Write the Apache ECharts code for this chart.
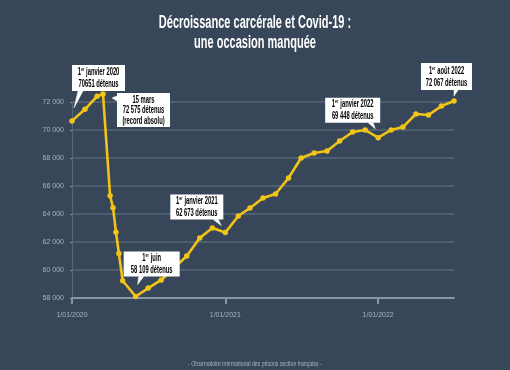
<!DOCTYPE html>
<html><head><meta charset="utf-8">
<script src="https://cdn.jsdelivr.net/npm/echarts@6/dist/echarts.min.js"></script>
<style>html,body{margin:0;padding:0;background:#374759;}#c{width:510px;height:370px;}</style>
</head><body><div id="c"></div>
<script>
const dates = ['2020-01-01','2020-02-01','2020-03-01','2020-03-15','2020-04-01','2020-04-08','2020-04-15','2020-04-22','2020-05-01','2020-06-01','2020-07-01','2020-08-01','2020-10-01','2020-11-01','2020-12-01',
 '2021-01-01','2021-02-01','2021-03-01','2021-04-01','2021-05-01','2021-06-01','2021-07-01','2021-08-01','2021-09-01','2021-10-01','2021-11-01','2021-12-01',
 '2022-01-01','2022-02-01','2022-03-01','2022-04-01','2022-05-01','2022-06-01','2022-07-01'];
const detenus = [70651,71480,72410,72575,65300,64450,62700,61180,59230,58109,58710,59290,61000,62290,63000,
 62673,63860,64430,65140,65430,66570,68000,68360,68500,69210,69860,70000,
 69448,70000,70210,71140,71070,71710,72067];
const xTicks = ['2020-01-01','2021-01-01','2022-01-01'];
const yMin = 58000, yMax = 72000, yStep = 2000;
const titleLines = ['Décroissance carcérale et Covid-19 :','une occasion manquée'];
const sourceText = '- Observatoire international des prisons section française -';
const notes = [
 {i:0, sup:'er', d:'janvier 2020', n:'70651 détenus', extra:null},
 {i:3, sup:'', d:'15 mars', n:'72 575 détenus', extra:'(record absolu)'},
 {i:9, sup:'er', d:'juin', n:'58 109 détenus', extra:null},
 {i:15, sup:'er', d:'janvier 2021', n:'62 673 détenus', extra:null},
 {i:27, sup:'er', d:'janvier 2022', n:'69 448 détenus', extra:null},
 {i:33, sup:'er', d:'août 2022', n:'72 067 détenus', extra:null}
];
const layout = [
 {box:[0,-56,53,26], base:[6,26,11,26], tip:[2,-13]},
 {box:[14,-1,53,34], base:[0,3,0,8], tip:[9,4]},
 {box:[-12,-45,56,25], base:[15,25,20,25], tip:[2,-12]},
 {box:[-55,-38,53,25], base:[43,25,48,25], tip:[-4,-7]},
 {box:[-53,-40,55,25], base:[43,25,48,25], tip:[-3,-9]},
 {box:[-33,-38,51,27], base:[33,27,37,27], tip:[0,-5]}
];
const FONT = "'Liberation Sans',Arial,sans-serif";
const ts = d => Date.parse(d + 'T00:00:00Z');
const chart = echarts.init(document.getElementById('c'));
const W = chart.getWidth();
const fmtK = v => String(v).replace(/\B(?=(\d{3})+(?!\d))/g, ' ');
const fmtD = v => {const d=new Date(v);return d.getUTCDate()+'/'+String(d.getUTCMonth()+1).padStart(2,'0')+'/'+d.getUTCFullYear();};
chart.setOption({
  backgroundColor:'#374759',
  animation:false,
  grid:{left:72,right:56,top:102,bottom:72},
  xAxis:{type:'value',min:ts(dates[0]),max:ts(dates[dates.length-1]),
    axisLine:{lineStyle:{color:'#8995a1',width:2}},
    axisTick:{show:true,customValues:xTicks.map(ts),length:6,lineStyle:{color:'#8995a1',width:2}},
    axisLabel:{customValues:xTicks.map(ts),color:'#a8b2bd',fontSize:7,fontFamily:FONT,margin:14,formatter:fmtD},
    splitLine:{show:false}},
  yAxis:{type:'value',min:yMin,max:yMax,interval:yStep,
    axisLine:{show:true,lineStyle:{color:'#566679',width:1}},
    axisTick:{show:true,length:2,lineStyle:{color:'#8995a1'}},
    axisLabel:{color:'#a8b2bd',fontSize:7,fontFamily:FONT,margin:8,formatter:fmtK},
    splitLine:{lineStyle:{color:'#566679',width:1.5}}},
  series:[{type:'line',clip:false,data:dates.map((d,k)=>[ts(d),detenus[k]]),
    lineStyle:{color:'#f2c417',width:2.6},itemStyle:{color:'#f2c417'},
    symbol:'circle',symbolSize:5.5,showAllSymbol:true}]
});
const els = [];
els.push({type:'text',x:W/2,y:33,scaleX:0.63,z:50,
  style:{text:titleLines.join('\n'),align:'center',verticalAlign:'middle',fill:'#ffffff',
    font:"bold 17.5px 'Liberation Sans',Arial,sans-serif",lineHeight:20}});
els.push({type:'text',x:W/2,y:364,scaleX:0.72,z:50,
  style:{text:sourceText,align:'center',verticalAlign:'middle',fill:'#a9b2bc',
    font:"7.2px 'Liberation Sans',Arial,sans-serif"}});
notes.forEach((n,k)=>{
  const p = chart.convertToPixel({seriesIndex:0},[ts(dates[n.i]),detenus[n.i]]);
  const L = layout[k];
  const bx = p[0]+L.box[0], by = p[1]+L.box[1], bw=L.box[2], bh=L.box[3];
  els.push({type:'polygon',shape:{points:[[bx+L.base[0],by+L.base[1]],[bx+L.base[2],by+L.base[3]],[p[0]+L.tip[0],p[1]+L.tip[1]]]},
    style:{fill:'#ffffff',stroke:'#ffffff',lineWidth:0.5},z:100});
  els.push({type:'rect',shape:{x:bx,y:by,width:bw,height:bh},style:{fill:'#ffffff'},z:101});
  let txt = (n.sup ? '{num|1}{sup|'+n.sup+'} ' : '') + '{d|'+n.d+'}\n{n|'+n.n+'}';
  if (n.extra) txt += '\n{n|'+n.extra+'}';
  const lh = n.extra ? 10.5 : 12;
  els.push({type:'text',x:bx+bw/2,y:by+bh/2+0.5,scaleX:0.58,z:102,
    style:{text:txt,align:'center',verticalAlign:'middle',fontFamily:FONT,
      rich:{num:{fontSize:10,fontWeight:'bold',color:'#34508f',fontFamily:FONT,lineHeight:lh},
            sup:{fontSize:6,fontWeight:'bold',color:'#34508f',fontFamily:FONT,verticalAlign:'top',lineHeight:lh},
            d:{fontSize:10,fontWeight:'bold',color:'#34508f',fontFamily:FONT,lineHeight:lh},
            n:{fontSize:10,fontWeight:'bold',color:'#111111',fontFamily:FONT,lineHeight:lh}}}});
});
chart.setOption({graphic:{elements:els}});
</script></body></html>
